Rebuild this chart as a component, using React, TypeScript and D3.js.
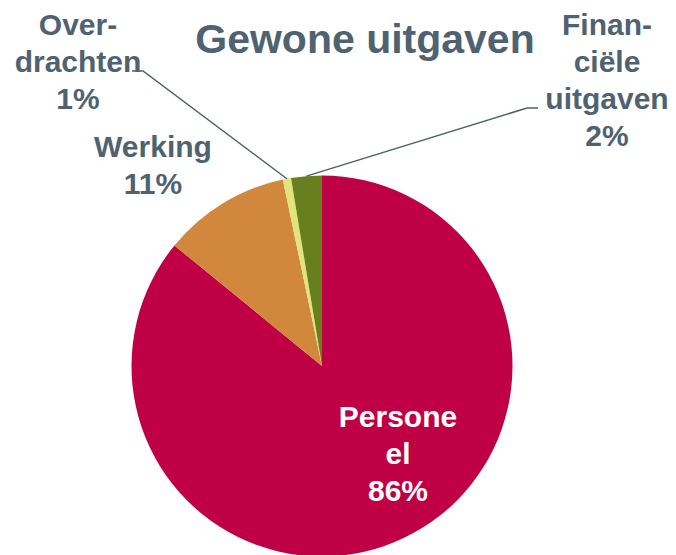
import React from "react";
import * as d3 from "d3";

const categories = ["Personeel", "Werking", "Overdrachten", "Financiële uitgaven"];
const shares = [85.9, 10.8, 0.7, 2.6];
const pctLabels = ["86%", "11%", "1%", "2%"];
const sliceColors = ["#C00045", "#D1883D", "#E0E47B", "#687F1D"];

const W = 676;
const H = 555;
const cx = 322;
const cy = 366;
const radius = 190.5;
const textColor = "#4F6271";
const font = "'Liberation Sans', Arial, sans-serif";

// label blocks: lines of text, anchor x, first baseline, leader start
const labelLayout = [
  { lines: ["Persone", "el", "86%"], x: 398, y: 427, fill: "#fff" },
  { lines: ["Werking", "11%"], x: 153, y: 157, fill: textColor },
  { lines: ["Over-", "drachten", "1%"], x: 78, y: 35, fill: textColor, leader: [[132, 71], [143, 71]] },
  { lines: ["Finan-", "ciële", "uitgaven", "2%"], x: 607, y: 35, fill: textColor, leader: [[538, 108], [527, 108]] },
];

export default function App() {
  const data = categories.map((c, i) => ({ name: c, value: shares[i], label: pctLabels[i] }));
  const pie = d3.pie<any>().sort(null).value((d) => d.value);
  const arcs = pie(data);
  const arc = d3.arc<any>().innerRadius(0).outerRadius(radius);
  const edge = d3.arc<any>().innerRadius(radius).outerRadius(radius);
  const line = d3.line();

  return (
    <svg
      width={W}
      height={H}
      style={{ position: "absolute", left: 0, top: 0, background: "#fff" }}
      fontFamily={font}
      fontWeight="bold"
    >
      <text x={365} y={53} textAnchor="middle" fontSize={41} fill={textColor}>
        Gewone uitgaven
      </text>
      <g transform={`translate(${cx},${cy})`}>
        {arcs.map((a, i) => (
          <path key={i} d={arc(a) || ""} fill={sliceColors[i]} />
        ))}
      </g>
      {labelLayout.map((l, i) => {
        let leaderPath = null;
        if (l.leader) {
          const [ex, ey] = edge.centroid(arcs[i]);
          const pts: [number, number][] = [
            l.leader[0] as [number, number],
            l.leader[1] as [number, number],
            [cx + ex, cy + ey],
          ];
          leaderPath = (
            <path d={line(pts) || ""} fill="none" stroke="#50606E" strokeWidth={1.5} />
          );
        }
        return (
          <g key={i}>
            {leaderPath}
            <text x={l.x} y={l.y} textAnchor="middle" fontSize={30} fill={l.fill}>
              {l.lines.map((t, j) => (
                <tspan key={j} x={l.x} y={l.y + j * 37}>
                  {t}
                </tspan>
              ))}
            </text>
          </g>
        );
      })}
    </svg>
  );
}
